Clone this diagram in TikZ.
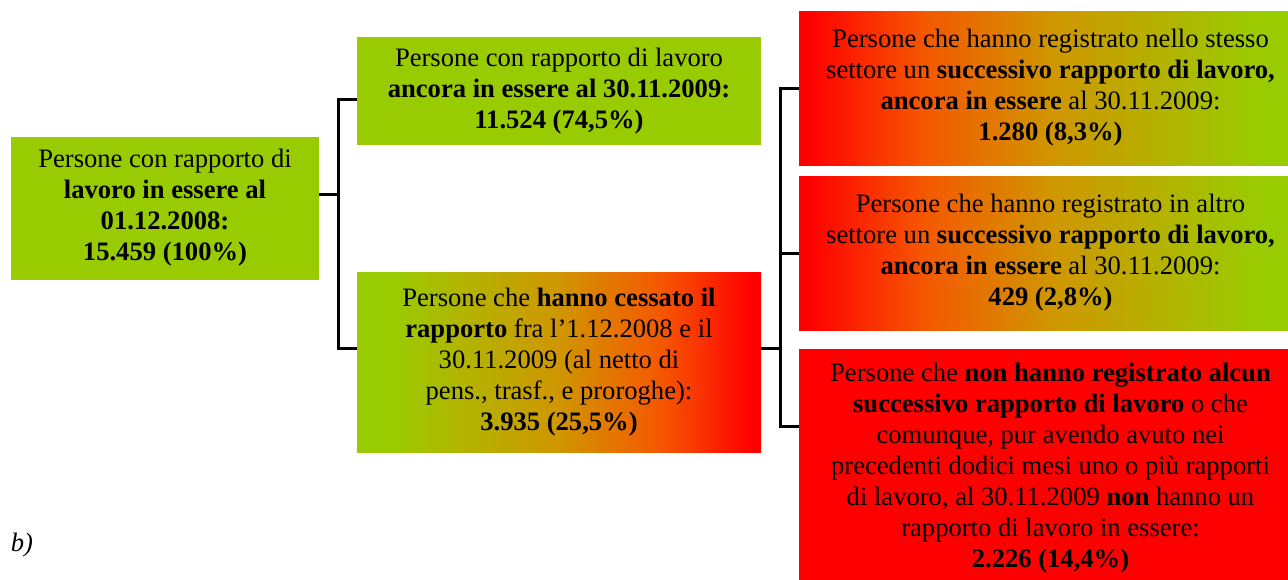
\documentclass[tikz,border=0pt]{standalone}
\usepackage{fontspec}
\setmainfont{Liberation Serif}
\usetikzlibrary{positioning}

\definecolor{leaf}{HTML}{99CC00}
\definecolor{alarm}{HTML}{FF0000}
\definecolor{ember}{RGB}{245,88,0}
\definecolor{amber}{RGB}{208,150,0}
\definecolor{olive}{RGB}{176,182,0}
\pgfdeclarehorizontalshading{redleaf}{100bp}{color(0bp)=(alarm); color(26bp)=(alarm);
    color(37.5bp)=(ember); color(50bp)=(amber); color(62.5bp)=(olive);
    color(71bp)=(leaf); color(100bp)=(leaf)}

\begin{document}
\begin{tikzpicture}[x=0.5pt,y=-0.5pt,
    every node/.style={rectangle,inner sep=0pt,align=center,
        font=\fontsize{13.3}{15.5}\selectfont},
    greenbox/.style={fill=leaf},
    greenred/.style={shade,shading=redleaf,shading angle=180},
    redgreen/.style={shade,shading=redleaf},
    redbox/.style={fill=alarm},
    conn/.style={line width=1.5pt}]
    \useasboundingbox (0,0) rectangle (1288,579);
    \clip (0,0) rectangle (1288,579);

    \node[greenbox,minimum width=154pt,minimum height=71.5pt] (start) at (165,208)
        {Persone con rapporto di\\ \textbf{lavoro in essere al}\\ \textbf{01.12.2008:}\\ \textbf{15.459 (100\%)}};
    \node[greenbox,minimum width=202pt,minimum height=54pt] (still) at (559,91)
        {Persone con rapporto di lavoro\\ \textbf{ancora in essere al 30.11.2009:}\\ \textbf{11.524 (74,5\%)}};
    \node[greenred,minimum width=202pt,minimum height=90pt] (ceased) at (559,362)
        {Persone che \textbf{hanno cessato il}\\ \textbf{rapporto} fra l’1.12.2008 e il\\ 30.11.2009 (al netto di\\ pens., trasf., e proroghe):\\ \textbf{3.935 (25,5\%)}};
		\node[redgreen,minimum width=251.5pt,minimum height=77pt] (same) at (1050.5,88)
        {Persone che hanno registrato nello stesso\\ settore un \textbf{successivo rapporto di lavoro,}\\ \textbf{ancora in essere} al 30.11.2009:\\ \textbf{1.280 (8,3\%)}};
    \node[redgreen,minimum width=251.5pt,minimum height=77pt] (other) at (1050.5,253)
        {Persone che hanno registrato in altro\\ settore un \textbf{successivo rapporto di lavoro,}\\ \textbf{ancora in essere} al 30.11.2009:\\ \textbf{429 (2,8\%)}};
    \node[redbox,minimum width=251.5pt,minimum height=119pt] (none) at (1050.5,468)
        {Persone che \textbf{non hanno registrato alcun}\\ \textbf{successivo rapporto di lavoro} o che\\ comunque, pur avendo avuto nei\\ precedenti dodici mesi uno o più rapporti\\ di lavoro, al 30.11.2009 \textbf{non} hanno un\\ rapporto di lavoro in essere:\\ \textbf{2.226 (14,4\%)}};
    \node[font=\fontsize{13.3}{15.5}\selectfont\itshape] (tag) at (22,545) {b)};

    \draw[conn] ([yshift=7pt]start.east) -- ++(19,0) coordinate (jl);
    \draw[conn] (jl) |- ([yshift=-4pt]still.west);
    \draw[conn] (jl) |- ([yshift=7pt]ceased.west);
    \draw[conn] ([yshift=7pt]ceased.east) -- ++(19,0) coordinate (jr);
    \foreach \v / \s in {same/0pt,other/0pt,none/21pt}
        \draw[conn] (jr) |- ([yshift=\s]\v.west);
\end{tikzpicture}
\end{document}
